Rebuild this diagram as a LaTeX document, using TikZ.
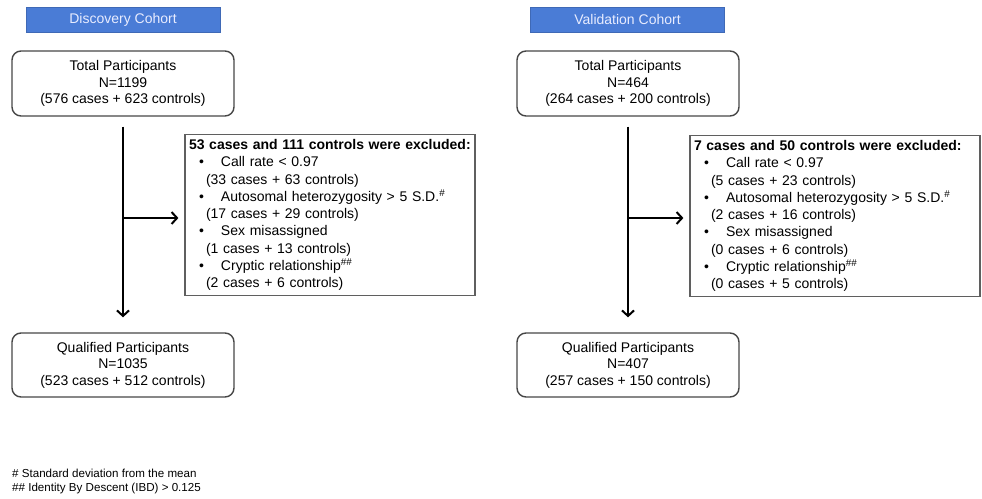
\documentclass[tikz,border=0pt]{standalone}
\usepackage{fontspec}
\setmainfont{Liberation Sans}
\usetikzlibrary{arrows.meta}
\definecolor{hdrblue}{RGB}{74,124,214}
\definecolor{hdrtext}{RGB}{232,236,255}
\definecolor{boxline}{RGB}{70,70,70}
\definecolor{exline}{RGB}{95,95,95}
\tikzset{
  hdr/.style={fill=hdrblue, draw=hdrblue!85!black, line width=0.6pt, text=hdrtext, minimum width=194pt, minimum height=25pt, inner sep=0pt, font=\fontsize{14}{16}\selectfont},
  pbox/.style={draw=boxline, line width=1.4pt, rounded corners=9pt, minimum width=222pt, minimum height=65pt, align=center, inner sep=0pt, font=\fontsize{14}{16.5}\selectfont},
  exbox/.style={draw=exline, line width=1.2pt, minimum width=290pt, minimum height=160pt, align=left, text width=282pt, inner xsep=4pt, inner ysep=5pt, font=\fontsize{14}{17.3}\selectfont},
  flow/.style={line width=2pt, -{Straight Barb[length=5.5pt,width=12pt,line width=2pt]}},
  foot/.style={align=left, inner sep=0pt, font=\fontsize{11.6}{14}\selectfont}
}
\newcommand{\bul}[1]{\hspace*{10pt}\makebox[22pt][l]{\textbullet}#1}
\newcommand{\sub}[1]{\hspace*{17pt}#1}
\begin{document}
\begin{tikzpicture}[x=1pt,y=-1pt]
\useasboundingbox (0,0) rectangle (982,498);
% Discovery
\node[hdr] (dh) at (123,19.5) {Discovery Cohort};
\node[pbox] (dt) at (123,83.5) {Total Participants\\N=1199\\(576 cases + 623 controls)};
\node[pbox, minimum height=64pt] (dq) at (123,365) {Qualified Participants\\N=1035\\(523 cases + 512 controls)};
\node[exbox] (dx) at (330,215) {\mbox{\textbf{53 cases and 111 controls were excluded:}}\\
\bul{Call rate < 0.97}\\
\sub{(33 cases + 63 controls)}\\
\bul{Autosomal heterozygosity > 5 S.D.\textsuperscript{\#}}\\
\sub{(17 cases + 29 controls)}\\
\bul{Sex misassigned}\\
\sub{(1 cases + 13 controls)}\\
\bul{Cryptic relationship\textsuperscript{\#\#}}\\
\sub{(2 cases + 6 controls)}};
\coordinate (dj) at (123,218);
\draw[flow, shorten <=10pt, shorten >=15pt] (dt.south) -- (dq.north);
\draw[flow, shorten >=6pt] (dj) -- (dj -| dx.west);
% Validation
\node[hdr] (vh) at (627.5,19.5) {Validation Cohort};
\node[pbox] (vt) at (628,83.5) {Total Participants\\N=464\\(264 cases + 200 controls)};
\node[pbox, minimum height=64pt] (vq) at (628,365) {Qualified Participants\\N=407\\(257 cases + 150 controls)};
\node[exbox] (vx) at (835,216) {\mbox{\textbf{7 cases and 50 controls were excluded:}}\\
\bul{Call rate < 0.97}\\
\sub{(5 cases + 23 controls)}\\
\bul{Autosomal heterozygosity > 5 S.D.\textsuperscript{\#}}\\
\sub{(2 cases + 16 controls)}\\
\bul{Sex misassigned}\\
\sub{(0 cases + 6 controls)}\\
\bul{Cryptic relationship\textsuperscript{\#\#}}\\
\sub{(0 cases + 5 controls)}};
\coordinate (vj) at (628,218);
\draw[flow, shorten <=10pt, shorten >=15pt] (vt.south) -- (vq.north);
\draw[flow, shorten >=6pt] (vj) -- (vj -| vx.west);
% footnotes
\node[foot, anchor=west] (fn) at (12,481) {\# Standard deviation from the mean\\\#\# Identity By Descent (IBD) > 0.125};
\end{tikzpicture}
\end{document}
